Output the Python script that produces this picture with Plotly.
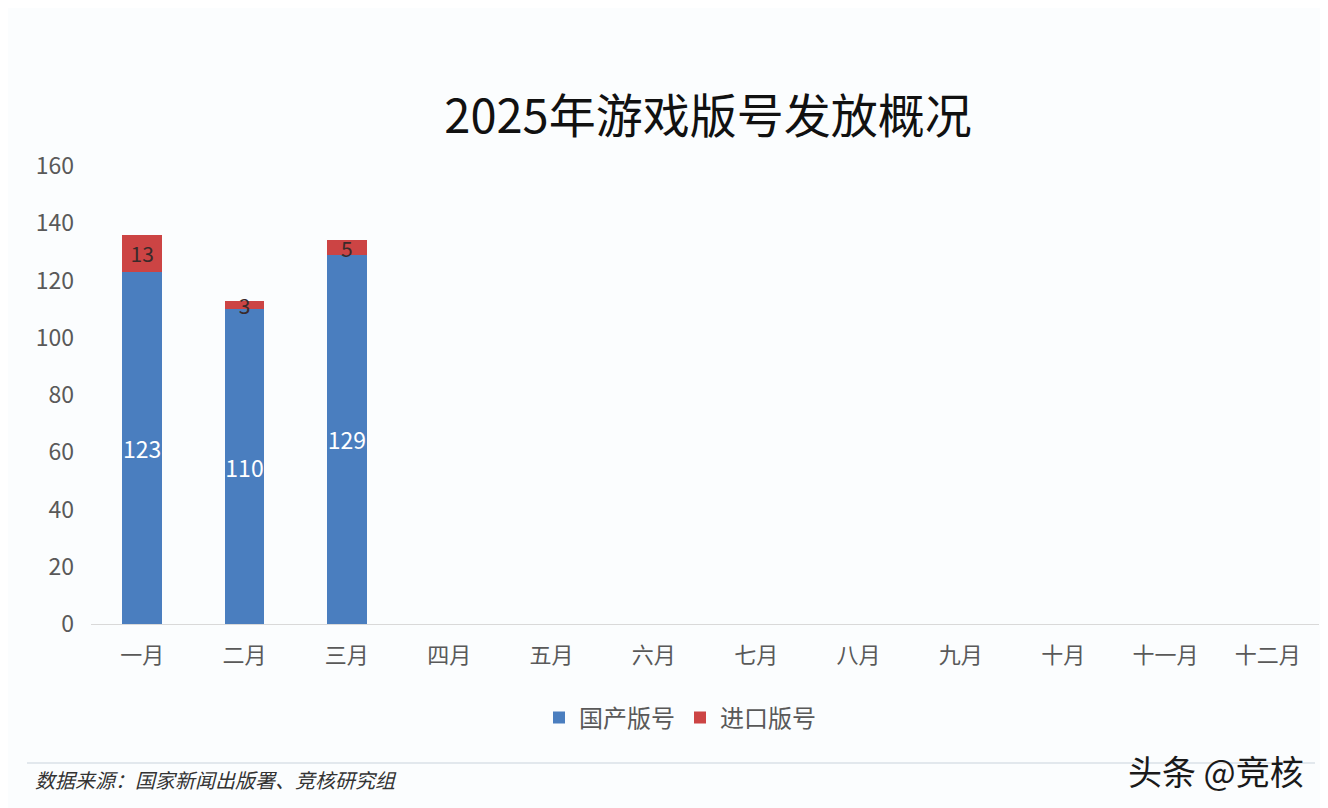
import plotly.graph_objects as go

months = ["一月", "二月", "三月", "四月", "五月", "六月", "七月", "八月", "九月", "十月", "十一月", "十二月"]
domestic = [123, 110, 129, None, None, None, None, None, None, None, None, None]
imported = [13, 3, 5, None, None, None, None, None, None, None, None, None]
y_ticks = [0, 20, 40, 60, 80, 100, 120, 140, 160]

# page is shown with an 8px body margin: figure starts at page (8, 8)
OFF = 8
PW, PH = 1328, 808
W, H = PW - OFF, PH - OFF
L, R, T, B = 91 - OFF, 9, 166 - OFF, 184
pw, ph = W - L - R, H - T - B


def px(x):  # page x -> paper x
    return (x - OFF - L) / pw


def py(y):  # page y -> paper y
    return (H - B - (y - OFF)) / ph


CJK = "Noto Sans CJK SC, DejaVu Sans, sans-serif"

fig = go.Figure()
fig.add_trace(go.Bar(
    x=months, y=domestic, name="国产版号",
    marker=dict(color="#4a7ebf", line=dict(width=0)),
    text=[str(v) if v is not None else "" for v in domestic],
    textposition="inside", insidetextanchor="middle", constraintext="none", textangle=0,
    textfont=dict(color="white", size=23, family=CJK),
))
fig.add_trace(go.Bar(
    x=months, y=imported, name="进口版号",
    marker=dict(color="#cc4444", line=dict(width=0)),
    text=[str(v) if v is not None else "" for v in imported],
    textposition="inside", insidetextanchor="middle", constraintext="none", textangle=0,
    textfont=dict(color="#3a2a2a", size=21, family=CJK),
))

fig.update_layout(
    width=W, height=H,
    barmode="stack", bargap=0.61,
    paper_bgcolor="#fbfdfe", plot_bgcolor="#fbfdfe",
    margin=dict(l=L, r=R, t=T, b=B, autoexpand=False),
    font=dict(family=CJK, color="#595959"),
    title=dict(text="2025年游戏版号发放概况", xref="container", x=(708 - OFF) / W, xanchor="center",
               yref="container", y=1 - (117 - OFF) / H, yanchor="middle",
               font=dict(size=47, color="#111111", family="Noto Sans CJK SC, DejaVu Serif")),
    xaxis=dict(showgrid=False, showline=True, linecolor="#d9d9d9", linewidth=1,
               ticks="", tickfont=dict(size=22, color="#595959"), ticklabelstandoff=12),
    yaxis=dict(range=[0, 160], tickvals=y_ticks, showgrid=False, zeroline=False,
               showline=False, ticks="", tickfont=dict(size=23, color="#595959"),
               ticklabelstandoff=16),
    legend=dict(orientation="h", x=px(680), xanchor="center", y=py(718), yanchor="middle",
                font=dict(size=24, color="#595959"), itemwidth=30, traceorder="normal"),
)

fig.add_shape(type="line", xref="paper", yref="paper", x0=px(27), x1=px(1315),
              y0=py(763), y1=py(763), line=dict(color="#c9d3dc", width=1))
fig.add_annotation(text="<i>数据来源：国家新闻出版署、竞核研究组</i>", xref="paper", yref="paper",
                   x=px(33), y=py(779), xanchor="left", yanchor="middle", showarrow=False,
                   font=dict(size=20, color="#333333", family=CJK))
fig.add_annotation(text="头条 @竞核", xref="paper", yref="paper",
                   x=px(1306), y=py(770), xanchor="right", yanchor="middle", showarrow=False,
                   font=dict(size=34, color="#1a1a1a", family=CJK))

fig.write_html("out.html")
